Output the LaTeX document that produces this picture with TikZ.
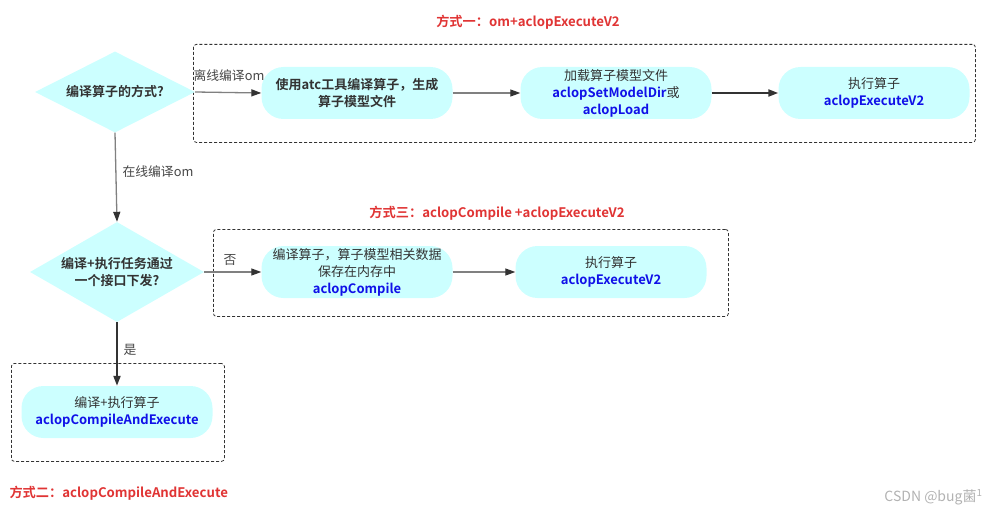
\documentclass[tikz,border=0pt]{standalone}
\usepackage{fontspec}
\setmainfont{Noto Sans CJK SC}[BoldFont={Noto Sans CJK SC Bold}]
\usetikzlibrary{shapes.geometric,arrows.meta}
\definecolor{nodefill}{HTML}{CCFFFF}
\definecolor{txt}{HTML}{333333}
\definecolor{api}{HTML}{1010E8}
\definecolor{ttl}{HTML}{E03434}
\definecolor{lgray}{HTML}{808080}
\definecolor{dgray}{HTML}{333333}
\newcommand{\apitxt}[1]{\textcolor{api}{\bfseries #1}}
\tikzset{
  every node/.style={font=\fontsize{13}{17}\selectfont, text=txt},
  procbox/.style={fill=nodefill, rounded corners=22pt, minimum width=191pt, minimum height=52pt, align=center, inner sep=2pt},
  decide/.style={diamond, fill=nodefill, inner sep=0pt, align=center},
  groupbox/.style={draw=dgray, dashed, dash pattern=on 3pt off 2pt, rounded corners=3pt, line width=0.8pt},
  grayarrow/.style={draw=lgray, line width=1.3pt, -{Triangle[length=10pt,width=7pt,color=dgray]}},
  darkarrow/.style={draw=dgray, line width=2pt, -{Triangle[length=10pt,width=7pt,color=dgray]}},
  lbl/.style={font=\fontsize{12.8}{15}\selectfont, text=txt!90},
  titletxt/.style={font=\fontsize{13.2}{15}\selectfont\bfseries, text=ttl},
}
\begin{document}
\begin{tikzpicture}[x=1pt,y=-1pt]
\useasboundingbox (0,0) rectangle (987,516);
% group boxes
\node[groupbox, minimum width=782pt, minimum height=98pt, anchor=north west] (g1) at (193,44) {};
\node[groupbox, minimum width=515pt, minimum height=87pt, anchor=north west] (g3) at (213,229) {};
\node[groupbox, minimum width=213pt, minimum height=98pt, anchor=north west] (g2) at (11,363) {};
% titles
\node[titletxt] (t1) at (528,22) {方式一：om+aclopExecuteV2};
\node[titletxt] (t3) at (497,213) {方式三：aclopCompile +aclopExecuteV2};
\node[titletxt, anchor=west] (t2) at (6,493) {方式二：aclopCompileAndExecute};
% decisions
\node[decide, minimum width=160pt, minimum height=81pt, aspect=1.97] (d1) at (115,92) {\bfseries 编译算子的方式?};
\node[decide, minimum width=174pt, minimum height=100pt, aspect=1.74] (d2) at (117,272) {\bfseries 编译+执行任务通过\\\bfseries 一个接口下发?};
% process nodes
\node[procbox] (na) at (357,93) {\bfseries 使用atc工具编译算子，生成\\\bfseries 算子模型文件};
\node[procbox] (nb) at (616,93) {加载算子模型文件\\\apitxt{aclopSetModelDir}或\\\apitxt{aclopLoad}};
\node[procbox] (nc) at (874,93) {执行算子\\\apitxt{aclopExecuteV2}};
\node[procbox] (nd) at (357,272) {编译算子，算子模型相关数据\\保存在内存中\\\apitxt{aclopCompile}};
\node[procbox] (ne) at (611,272) {执行算子\\\apitxt{aclopExecuteV2}};
\node[procbox] (nf) at (117,412) {编译+执行算子\\\apitxt{aclopCompileAndExecute}};
% connectors
\draw[grayarrow] (d1.east) -- (na.west);
\draw[grayarrow] (na.east) -- (nb.west);
\draw[darkarrow] (nb.east) -- (nc.west);
\draw[grayarrow] (d1.south) -- (d2.north);
\draw[grayarrow] (d2.east) -- (nd.west);
\draw[grayarrow] (nd.east) -- (ne.west);
\draw[darkarrow] (d2.south) -- (nf.north);
% labels
\node[lbl] (l1) at (229,76) {离线编译om};
\node[lbl] (l2) at (158,172) {在线编译om};
\node[lbl] (l3) at (230,260) {否};
\node[lbl] (l4) at (130,350) {是};
% watermark
\node[anchor=east, font=\fontsize{14}{16}\selectfont, text=black!30] (wm) at (986,497) {CSDN @bug菌\textsuperscript{1}};
\end{tikzpicture}
\end{document}
